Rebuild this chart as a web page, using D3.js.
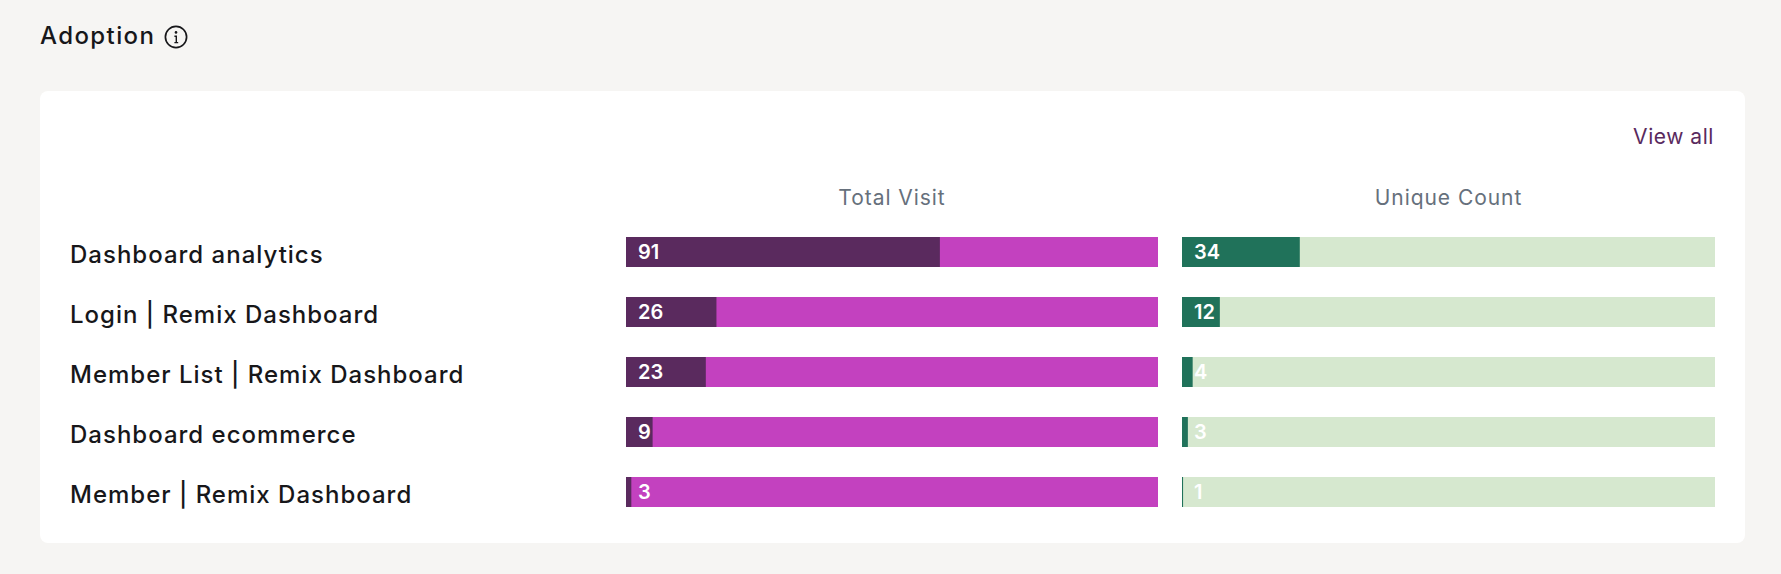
<!DOCTYPE html>
<html>
<head>
<meta charset="utf-8">
<script src="https://cdn.jsdelivr.net/npm/d3@7"></script>
<style>
  html, body { margin: 0; padding: 0; background: #f6f5f3; }
  svg { display: block; }
  text { font-family: Inter, "Open Sans", sans-serif; }
</style>
</head>
<body>
<div id="container"></div>
<script>
const pages = ['Dashboard analytics', 'Login | Remix Dashboard', 'Member List | Remix Dashboard', 'Dashboard ecommerce', 'Member | Remix Dashboard']
// labels printed on the bars
const totalVisit = [91, 26, 23, 9, 3]
const uniqueCount = [34, 12, 4, 3, 1]
// share of the track that is filled
const totalVisitShare = [59, 17, 15, 5, 1]
const uniqueCountShare = [22.1, 7.1, 2, 1.1, 0.2]

const w = 1781
const h = 574

const svg = d3.select('#container')
  .append('svg')
  .attr('width', w)
  .attr('height', h)

//title and info icon
svg.append('text')
  .attr('x', 40)
  .attr('y', 44)
  .attr('font-size', 24)
  .attr('font-weight', 450)
  .attr('letter-spacing', 1.4)
  .attr('fill', '#17171a')
  .text('Adoption')

const info = svg.append('g')
  .attr('transform', 'translate(176,37)')
info.append('circle')
  .attr('r', 10.6)
  .attr('fill', 'none')
  .attr('stroke', '#17171a')
  .attr('stroke-width', 1.7)
info.append('circle')
  .attr('cy', -4.6)
  .attr('r', 1.3)
  .attr('fill', '#17171a')
info.append('path')
  .attr('d', 'M-1.6,-0.8H0.3V5.4M-1.6,5.6H2.2')
  .attr('fill', 'none')
  .attr('stroke', '#17171a')
  .attr('stroke-width', 1.4)

//card
svg.append('rect')
  .attr('x', 40)
  .attr('y', 91)
  .attr('width', 1705)
  .attr('height', 452)
  .attr('rx', 8)
  .attr('fill', '#ffffff')

svg.append('text')
  .attr('x', 1714)
  .attr('y', 144)
  .attr('text-anchor', 'end')
  .attr('font-size', 21)
  .attr('font-weight', 420)
  .attr('letter-spacing', 0.55)
  .attr('fill', '#5a2a5e')
  .text('View all')

//rows
const y = d3.scaleBand()
  .domain(pages)
  .range([222, 522])
  .paddingInner(0.5)
  .paddingOuter(0.25)

svg.selectAll('.page')
  .data(pages)
  .enter()
  .append('text')
  .attr('class', 'page')
  .attr('x', 70)
  .attr('y', d => y(d) + 26)
  .attr('font-size', 24)
  .attr('font-weight', 450)
  .attr('letter-spacing', 1)
  .attr('fill', '#17171a')
  .text(d => d)

//one column of bars
const drawColumn = (title, labels, shares, range, dark, light) => {
  const x = d3.scaleLinear()
    .domain([0, 100])
    .range(range)

  svg.append('text')
    .attr('x', (range[0] + range[1]) / 2)
    .attr('y', 205)
    .attr('text-anchor', 'middle')
    .attr('font-size', 21)
    .attr('font-weight', 420)
    .attr('letter-spacing', 0.95)
    .attr('fill', '#66707c')
    .text(title)

  const row = svg.selectAll(null)
    .data(pages)
    .enter()
    .append('g')

  row.append('rect')
    .attr('x', x(0))
    .attr('y', d => y(d))
    .attr('width', x(100) - x(0))
    .attr('height', y.bandwidth())
    .attr('fill', light)

  row.append('rect')
    .attr('x', x(0))
    .attr('y', d => y(d))
    .attr('width', (d, i) => x(shares[i]) - x(0))
    .attr('height', y.bandwidth())
    .attr('fill', dark)

  row.append('text')
    .attr('x', x(0) + 12)
    .attr('y', d => y(d) + 22)
    .attr('font-size', 20)
    .attr('font-weight', 600)
    .attr('fill', '#ffffff')
    .text((d, i) => labels[i])
}

drawColumn('Total Visit', totalVisit, totalVisitShare, [626, 1158], '#5a2a5e', '#c341bf')
drawColumn('Unique Count', uniqueCount, uniqueCountShare, [1182, 1715], '#20725a', '#d6e8cf')
</script>
</body>
</html>
